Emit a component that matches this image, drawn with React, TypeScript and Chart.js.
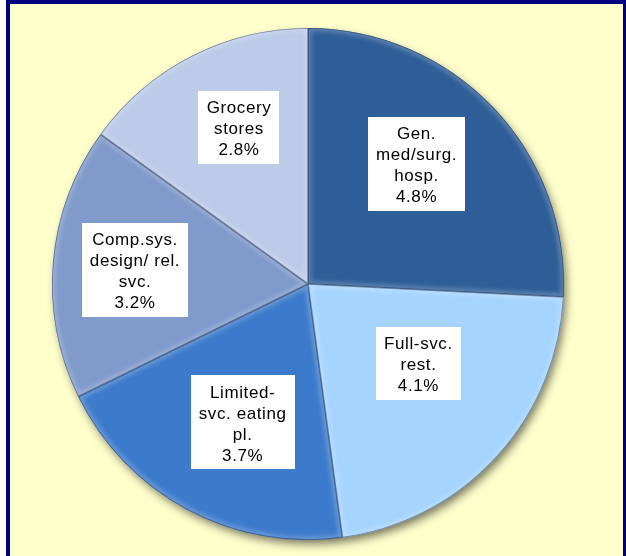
import React, { useEffect, useRef } from "react";
import { Chart, registerables } from "chart.js";

Chart.register(...registerables);

const categories: string[][] = [
  ["Gen.", "med/surg.", "hosp."],
  ["Full-svc.", "rest."],
  ["Limited-", "svc. eating", "pl."],
  ["Comp.sys.", "design/ rel.", "svc."],
  ["Grocery", "stores"],
];
const values: number[] = [4.8, 4.1, 3.7, 3.2, 2.8];
const sliceColors: string[] = ["#2E5E98", "#A5D4FF", "#3C7BCB", "#7F9ACB", "#BCCBE8"];

// label placement (style only): angle shift in degrees and radial fraction
const labelAngleShift: number[] = [-4.4, -6.9, -2.8, -0.2, 3.3];
const labelRadiusFrac: number[] = [0.633, 0.531, 0.598, 0.678, 0.668];

const piePlugin = {
  id: "pieDecor",
  beforeDatasetsDraw(chart: any) {
    const meta = chart.getDatasetMeta(0);
    const el = meta.data[0];
    if (!el) return;
    const { x, y, outerRadius } = el.getProps(["x", "y", "outerRadius"], true);
    const ctx = chart.ctx as CanvasRenderingContext2D;
    ctx.save();
    ctx.shadowColor = "rgba(0,0,0,0.55)";
    ctx.shadowBlur = 10;
    ctx.shadowOffsetX = 3;
    ctx.shadowOffsetY = 5;
    ctx.fillStyle = "#556";
    ctx.beginPath();
    ctx.arc(x, y, outerRadius - 1, 0, Math.PI * 2);
    ctx.fill();
    ctx.restore();
  },
  afterDatasetsDraw(chart: any) {
    const meta = chart.getDatasetMeta(0);
    const ctx = chart.ctx as CanvasRenderingContext2D;
    meta.data.forEach((el: any) => {
      const { x, y, startAngle, endAngle, outerRadius } = el.getProps(
        ["x", "y", "startAngle", "endAngle", "outerRadius"],
        true
      );
      const path = () => {
        ctx.beginPath();
        ctx.moveTo(x, y);
        ctx.arc(x, y, outerRadius, startAngle, endAngle);
        ctx.closePath();
      };
      ctx.save();
      path();
      ctx.clip();
      ctx.filter = "blur(2px)";
      path();
      ctx.lineWidth = 7;
      ctx.strokeStyle = "rgba(255,255,255,0.22)";
      ctx.stroke();
      ctx.filter = "none";
      path();
      ctx.lineWidth = 1.6;
      ctx.strokeStyle = "rgba(20,30,60,0.45)";
      ctx.stroke();
      ctx.restore();
    });

    // labels
    meta.data.forEach((el: any, i: number) => {
      const { x, y, startAngle, endAngle, outerRadius } = el.getProps(
        ["x", "y", "startAngle", "endAngle", "outerRadius"],
        true
      );
      const mid = (startAngle + endAngle) / 2 + (labelAngleShift[i] * Math.PI) / 180;
      const r = outerRadius * labelRadiusFrac[i];
      const cx = x + r * Math.cos(mid);
      const cy = y + r * Math.sin(mid);
      const lines = [...categories[i], values[i].toFixed(1) + "%"];
      ctx.save();
      ctx.font = "17px 'Liberation Sans', Arial, sans-serif";
      (ctx as any).letterSpacing = "0.6px";
      const lh = 21;
      let tw = 0;
      lines.forEach((l) => {
        tw = Math.max(tw, ctx.measureText(l).width);
      });
      const w = Math.round(tw + 16);
      const h = lines.length * lh + 10;
      ctx.fillStyle = "#FFFFFF";
      ctx.fillRect(Math.round(cx - w / 2), Math.round(cy - h / 2), w, h);
      ctx.fillStyle = "#000000";
      ctx.textAlign = "center";
      ctx.textBaseline = "middle";
      lines.forEach((l, k) => {
        ctx.fillText(l, cx, cy - ((lines.length - 1) * lh) / 2 + k * lh + 2);
      });
      ctx.restore();
    });
  },
};

export default function App() {
  const ref = useRef<HTMLCanvasElement | null>(null);
  useEffect(() => {
    if (!ref.current) return;
    const chart = new Chart(ref.current, {
      type: "pie",
      data: {
        labels: categories.map((c) => c.join(" ")),
        datasets: [
          {
            data: values,
            backgroundColor: sliceColors,
            borderWidth: 0,
          },
        ],
      },
      options: {
        responsive: false,
        maintainAspectRatio: false,
        animation: false,
        layout: { padding: { left: 52, right: 62, top: 28, bottom: 16 } },
        plugins: {
          legend: { display: false },
          tooltip: { enabled: false },
        },
      },
      plugins: [piePlugin],
    });
    return () => chart.destroy();
  }, []);

  return (
    <div
      style={{
        position: "fixed",
        left: 0,
        top: 0,
        width: 626,
        height: 556,
        overflow: "hidden",
        background: "#FFFFFF",
      }}
    >
      <div
        style={{
          position: "absolute",
          left: 6,
          top: 0,
          width: 620,
          height: 600,
          boxSizing: "border-box",
          borderTop: "4px solid #000080",
          borderLeft: "4px solid #000080",
          borderRight: "3px solid #000080",
          background: "#FFFFCC",
        }}
      />
      <canvas
        ref={ref}
        width={626}
        height={556}
        style={{ position: "absolute", left: 0, top: 0, width: 626, height: 556 }}
      />
    </div>
  );
}
